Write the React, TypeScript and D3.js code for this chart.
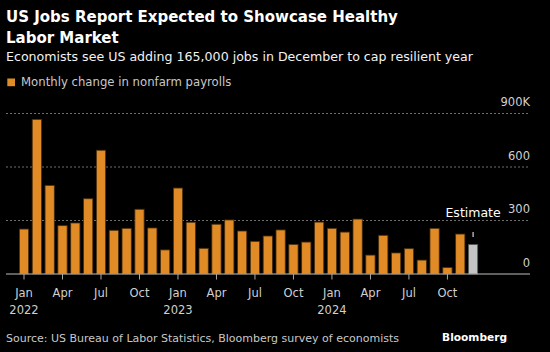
import { useMemo } from "react";
import * as d3 from "d3";

// Monthly change in nonfarm payrolls, thousands (Jan 2022 .. Nov 2024), Dec 2024 is the estimate
const PAYROLLS = [
  252, 867, 497, 271, 286, 422, 694, 245, 256, 363, 258, 135,
  482, 290, 144, 279, 303, 241, 183, 213, 247, 166, 179, 291,
  256, 235, 308, 106, 217, 118, 142, 78, 256, 36, 224,
];
const ESTIMATE = 165;
const MONTHS = d3.timeMonths(new Date(2022, 0, 1), new Date(2025, 0, 1));
const Y_TICKS = [0, 300, 600, 900];
const QUARTER_LABELS = ["Jan", "Apr", "Jul", "Oct"];

const W = 550;
const H = 352;
const FONT = "'DejaVu Sans', Verdana, sans-serif";
const ORANGE = "#e08b26";

export default function App() {
  const values = useMemo(() => [...PAYROLLS, ESTIMATE], []);

  const x = useMemo(
    () =>
      d3
        .scaleBand<number>()
        .domain(d3.range(MONTHS.length))
        .range([17.6, 479.5])
        .paddingInner(0.28)
        .paddingOuter(0.14),
    []
  );
  const y = useMemo(() => d3.scaleLinear().domain([0, 900]).range([274, 113.5]), []);

  const gridLeft = 6;
  const gridRight = 530;
  const cx = (i: number) => (x(i) ?? 0) + x.bandwidth() / 2;
  const last = MONTHS.length - 1;

  return (
    <div style={{ position: "absolute", left: 0, top: 0 }}>
      <svg width={W} height={H} style={{ display: "block", background: "#000" }} fontFamily={FONT}>
        <rect width={W} height={H} fill="#000" />

        {/* titles */}
        <text x={6} y={22} fill="#fff" fontSize={15} fontWeight="bold">
          US Jobs Report Expected to Showcase Healthy
        </text>
        <text x={6} y={42.5} fill="#fff" fontSize={15} fontWeight="bold">
          Labor Market
        </text>
        <text x={6} y={61} fill="#f2f2f2" fontSize={12.6}>
          Economists see US adding 165,000 jobs in December to cap resilient year
        </text>

        {/* legend */}
        <rect x={7.3} y={78.5} width={7.7} height={7.7} fill={ORANGE} />
        <text x={21} y={86} fill="#c8c8c8" fontSize={11.7}>
          Monthly change in nonfarm payrolls
        </text>

        {/* gridlines */}
        {Y_TICKS.filter((t) => t > 0).map((t) => (
          <line
            key={t}
            x1={gridLeft}
            x2={gridRight}
            y1={y(t)}
            y2={y(t)}
            stroke="#6e6e6e"
            strokeDasharray="2 2"
            strokeWidth={1}
          />
        ))}
        {Y_TICKS.map((t) => (
          <text
            key={t}
            x={gridRight}
            y={y(t) - 7.5}
            textAnchor="end"
            fill="#d0d0d0"
            fontSize={11.5}
          >
            {t === 900 ? "900K" : t}
          </text>
        ))}

        {/* bars */}
        {values.map((v, i) => (
          <rect
            key={i}
            x={x(i)}
            y={y(v)}
            width={x.bandwidth()}
            height={y(0) - y(v)}
            fill={i === last ? "#c4c4c4" : ORANGE}
            stroke={i === last ? "#555" : "#4a2e0c"}
            strokeWidth={0.8}
          />
        ))}

        {/* estimate annotation */}
        <text x={cx(last)} y={216.5} textAnchor="middle" fill="#fff" fontSize={12.5}>
          Estimate
        </text>
        <line x1={cx(last)} x2={cx(last)} y1={232} y2={237} stroke="#fff" strokeWidth={1} />

        {/* baseline and x axis */}
        <line x1={gridLeft} x2={gridRight} y1={y(0)} y2={y(0)} stroke="#bdbdbd" strokeWidth={1.2} />
        {MONTHS.map((m, i) =>
          m.getMonth() % 3 === 0 ? (
            <g key={i} transform={`translate(${cx(i)},0)`}>
              <line y1={y(0)} y2={y(0) + 5.5} stroke="#aaa" strokeWidth={1} />
              <text y={297} textAnchor="middle" fill="#d0d0d0" fontSize={11.5}>
                {QUARTER_LABELS[m.getMonth() / 3]}
              </text>
              {m.getMonth() === 0 && (
                <text y={314} textAnchor="middle" fill="#d0d0d0" fontSize={11.5}>
                  {m.getFullYear()}
                </text>
              )}
            </g>
          ) : null
        )}

        {/* footer */}
        <text x={6} y={342} fill="#c8c8c8" fontSize={11}>
          Source: US Bureau of Labor Statistics, Bloomberg survey of economists
        </text>
        <text x={507} y={341} textAnchor="end" fill="#fff" fontSize={10.6} fontWeight="bold">
          Bloomberg
        </text>
      </svg>
    </div>
  );
}
